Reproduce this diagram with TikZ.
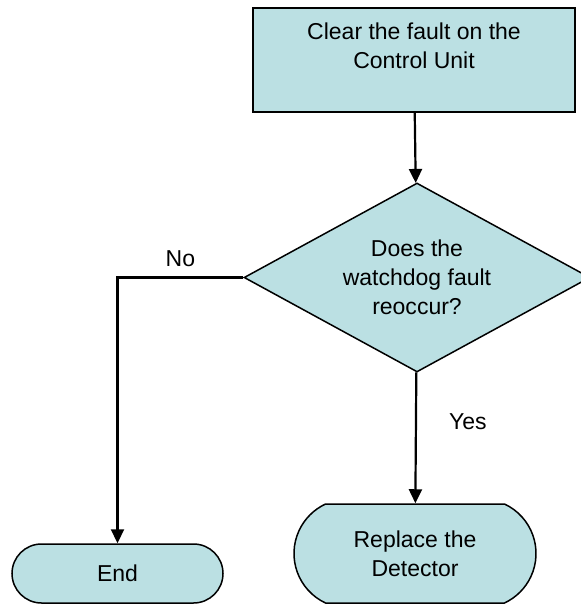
\documentclass[tikz,border=0pt]{standalone}
\usepackage{fontspec}
\setmainfont{Liberation Sans}
\usetikzlibrary{arrows.meta,shapes.geometric,shapes.misc}
\definecolor{boxfill}{RGB}{187,224,227}

\begin{document}
\begin{tikzpicture}[
  x=0.5pt, y=-0.5pt,
  every node/.style={
    font=\fontsize{11.5}{14.5}\selectfont,
    align=center,
    inner sep=0pt
  },
  process/.style={rectangle, draw, fill=boxfill, line width=0.75pt,
    minimum width=161pt, minimum height=52pt},
  decision/.style={diamond, draw, fill=boxfill, line width=0.75pt,
    aspect=1.83, minimum width=173pt, minimum height=94.5pt},
  terminal/.style={rounded rectangle, draw, fill=boxfill, line width=0.75pt},
  flow/.style={
    -{Triangle[length=7pt,width=6.5pt]},
    line width=1.1pt
  }
]
  \useasboundingbox (0,0) rectangle (581,604);

  \node[process] (clear) at (414,60) {Clear the fault on the\\Control Unit\\~};
  \node[decision] (check) at (417,277.5) {Does the\\watchdog fault\\reoccur?};

  \node[terminal, minimum width=105.5pt, minimum height=29.5pt] (end) at (117.5,573.5) {End};
  \node[terminal, rounded rectangle arc length=130,
    minimum width=121pt, minimum height=49.5pt] (replace) at (415,553.5) {Replace the\\Detector};

  \draw[flow] (clear) -- (check);
  \draw[flow] (check.west) -| node[pos=0.25, above=5pt] {No} (end.north);
  \draw[flow] (check) -- node[pos=0.38, right=16pt] {Yes} (replace);
\end{tikzpicture}
\end{document}
